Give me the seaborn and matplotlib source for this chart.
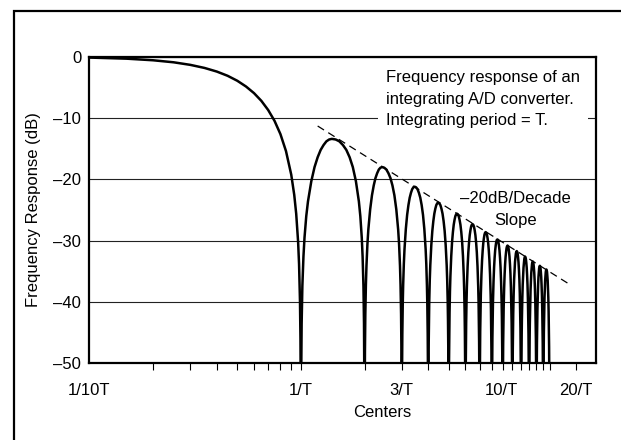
import pandas as pd
import seaborn as sns
import matplotlib.pyplot as plt
from matplotlib.patches import Rectangle
from matplotlib.ticker import NullFormatter
from matplotlib.transforms import ScaledTranslation

sns.set_style("white")
plt.rcParams["font.family"] = ["Liberation Sans", "DejaVu Sans"]
plt.rcParams["font.size"] = 12
plt.rcParams["text.color"] = "black"
plt.rcParams["xtick.color"] = "black"
plt.rcParams["ytick.color"] = "black"

# --- main lobe (frequency in units of 1/T, dB) ---
main_freq = [0.1, 0.15, 0.2, 0.25, 0.3, 0.35, 0.4, 0.45, 0.5, 0.55, 0.6, 0.65,
             0.7, 0.75, 0.8, 0.85, 0.9, 0.93, 0.95, 0.97, 0.98, 0.99, 0.995]
main_db = [-0.14, -0.32, -0.58, -0.91, -1.33, -1.83, -2.42, -3.11, -3.92, -4.86,
           -5.94, -7.20, -8.69, -10.45, -12.62, -15.39, -19.23, -22.54, -25.61,
           -30.21, -33.81, -39.91, -45.98]

# --- side lobes: nulls, peak positions and peak levels ---
null_freq = [1, 2, 3, 4, 5, 6, 7, 8, 9, 10, 11, 12, 13, 14, 15]
lobe_peak_freq = [1.40, 2.42, 3.45, 4.46, 5.47, 6.48, 7.48, 8.49, 9.49, 10.49,
                  11.49, 12.49, 13.49, 14.49]
lobe_peak_db = [-13.4, -18.0, -21.2, -23.8, -25.6, -27.3, -28.6, -29.8, -30.8,
                -31.7, -32.6, -33.4, -34.1, -34.7]
# shape of one half lobe: fraction of the way null -> peak, dB below the peak
lobe_frac = [0.006, 0.02, 0.04, 0.07, 0.1, 0.15, 0.2, 0.3, 0.4, 0.5, 0.6, 0.7,
             0.8, 0.9, 1.0]
lobe_shape_db = [-40.5, -30.1, -24.0, -19.2, -16.1, -12.6, -10.2, -6.9, -4.6,
                 -3.0, -1.8, -1.0, -0.4, -0.1, 0.0]
floor_db = -60

# dashed -20 dB/decade guide
slope_freq = [1.2, 19.0]
slope_db = [-11.3, -37.3]

major_ticks = [0.1, 1, 3, 10, 20]
major_labels = ["1/10T", "1/T", "3/T", "10/T", "20/T"]
minor_ticks = [0.2, 0.3, 0.4, 0.5, 0.6, 0.7, 0.8, 0.9, 2, 4, 5, 6, 7, 8, 9,
               11, 12, 13, 14, 15]
y_ticks = [0, -10, -20, -30, -40, -50]
y_labels = ["0", "\u201310", "\u201320", "\u201330", "\u201340", "\u201350"]

# --- build the curve table ---
rows = list(zip(main_freq, main_db))
for k, (pf, pdb) in enumerate(zip(lobe_peak_freq, lobe_peak_db)):
    lo, hi = null_freq[k], null_freq[k + 1]
    rows.append((lo, floor_db))
    for s, d in zip(lobe_frac, lobe_shape_db):
        rows.append((lo + s * (pf - lo), pdb + d))
    for s, d in zip(lobe_frac[::-1][1:], lobe_shape_db[::-1][1:]):
        rows.append((hi - s * (hi - pf), pdb + d))
rows.append((null_freq[-1], floor_db))
df = pd.DataFrame(rows, columns=["freq", "db"])

fig = plt.figure(figsize=(6.21, 4.40), dpi=100)
ax = fig.add_axes([0.1441, 0.1743, 0.8164, 0.6968])
ax.set_xscale("log")

sns.lineplot(data=df, x="freq", y="db", color="black", lw=1.8,
             estimator=None, sort=False, ax=ax)
sns.lineplot(x=slope_freq, y=slope_db, color="black", lw=0.9,
             estimator=None, ax=ax)
ax.lines[-1].set_dashes([6, 4])

ax.set_xlim(0.1, 25)
ax.set_ylim(-50, 0)

# y axis
ax.set_yticks(y_ticks, labels=y_labels)
ax.tick_params(axis="y", length=0, pad=6)
ax.yaxis.grid(True, color="#222222", lw=0.8)
ax.xaxis.grid(False)
ax.set_axisbelow(True)

# x axis
ax.set_xticks(major_ticks, labels=major_labels)
ax.set_xticks(minor_ticks, minor=True)
ax.xaxis.set_minor_formatter(NullFormatter())
ax.tick_params(axis="x", which="both", bottom=True, direction="out",
               length=5, width=0.8, color="black", pad=9)
ax.xaxis.get_major_ticks()[0].tick1line.set_visible(False)
lab10 = ax.get_xticklabels()[3]
lab10.set_transform(lab10.get_transform()
                    + ScaledTranslation(-0.11, 0, fig.dpi_scale_trans))

for sp in ax.spines.values():
    sp.set_linewidth(1.6)
    sp.set_color("black")

ax.set_xlabel("")
ax.set_ylabel("")
ax.text(-0.1114, 0.5, "Frequency Response (dB)", rotation=90,
        transform=ax.transAxes, ha="center", va="center")
ax.text(0.577, -0.161, "Centers", transform=ax.transAxes,
        ha="center", va="center")

ax.text(0.585, 0.957,
        "Frequency response of an\nintegrating A/D converter.\nIntegrating period = T.",
        transform=ax.transAxes, ha="left", va="top", linespacing=1.56,
        bbox=dict(facecolor="white", edgecolor="none", pad=6), zorder=3)
ax.text(0.840, 0.5016, "\u201320dB/Decade\nSlope", transform=ax.transAxes,
        ha="center", va="center", multialignment="center", linespacing=1.52)

# outer frame (only left and top edges fall inside the picture)
fig.add_artist(Rectangle((14 / 621, -0.2), 1.5, 0.975 + 0.2,
                         transform=fig.transFigure, fill=False,
                         lw=1.6, ec="black"))

fig.savefig("out.png", dpi=100)
